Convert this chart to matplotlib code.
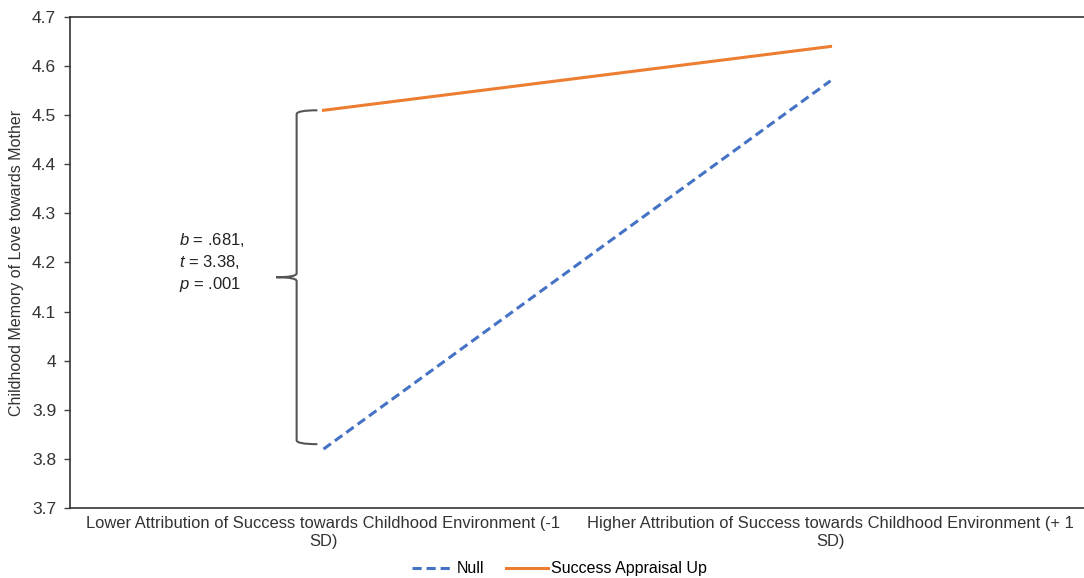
import matplotlib.pyplot as plt
from matplotlib.path import Path
from matplotlib.patches import PathPatch

plt.rcParams['font.family'] = ['Liberation Sans', 'DejaVu Sans']
plt.rcParams['mathtext.fontset'] = 'custom'
plt.rcParams['mathtext.rm'] = 'Liberation Sans'
plt.rcParams['mathtext.it'] = 'Liberation Sans:italic'

categories = ['Lower Attribution of Success towards Childhood Environment (-1\nSD)',
              'Higher Attribution of Success towards Childhood Environment (+ 1\nSD)']
null_vals = [3.82, 4.57]
success_vals = [4.51, 4.64]
yticks = [3.7, 3.8, 3.9, 4.0, 4.1, 4.2, 4.3, 4.4, 4.5, 4.6, 4.7]
ytick_labels = ['3.7', '3.8', '3.9', '4', '4.1', '4.2', '4.3', '4.4', '4.5', '4.6', '4.7']

txt = '#333333'

fig = plt.figure(figsize=(10.84, 5.78), dpi=100)
ax = fig.add_axes([70 / 1084, 70 / 578, 1 - 70 / 1084, 491 / 578])

x = [0, 1]
ax.plot(x, null_vals, color='#4472C4', lw=2.2, ls=(0, (3, 1.6)), label='Null')
ax.plot(x, success_vals, color='#ED7D31', lw=2.2, label='Success Appraisal Up')

ax.set_xlim(-0.5, 1.5)
ax.set_ylim(3.7, 4.7)
ax.set_yticks(yticks)
ax.set_yticklabels(ytick_labels, fontsize=12.5, color=txt)
ax.set_xticks(x)
ax.set_xticklabels(categories, fontsize=11.9, color=txt, linespacing=1.2)
ax.tick_params(axis='x', length=0, pad=6)
ax.tick_params(axis='y', length=4, width=1, color='#404040', pad=6)
ax.set_ylabel('Childhood Memory of Love towards Mother', fontsize=11.5, color=txt, labelpad=6)

for side in ['left', 'bottom', 'top']:
    ax.spines[side].set_color('#333333')
    ax.spines[side].set_linewidth(1.2)
ax.spines['right'].set_visible(False)

# curly brace spanning the gap between the two lines at the low end
top, bot = success_vals[0], 3.83
mid = (top + bot) / 2
xb, xe, xc = -0.053, -0.012, -0.093
r = 0.008
verts = [(xe, top), (xb, top), (xb, top - r), (xb, mid + r),
         (xb, mid), (xc, mid), (xb, mid), (xb, mid - r),
         (xb, bot + r), (xb, bot), (xe, bot)]
codes = [Path.MOVETO, Path.CURVE3, Path.CURVE3, Path.LINETO,
         Path.CURVE3, Path.CURVE3, Path.CURVE3, Path.CURVE3,
         Path.LINETO, Path.CURVE3, Path.CURVE3]
ax.add_patch(PathPatch(Path(verts, codes), fill=False, lw=1.5, edgecolor='#555555'))

ax.text(-0.285, mid + 0.03, '$b$ = .681,\n$t$ = 3.38,\n$p$ = .001', fontsize=12,
        ha='left', va='center', linespacing=1.3, color='#222222')

fig.legend(loc='lower center', bbox_to_anchor=(0.516, -0.022), ncol=2, frameon=False,
           fontsize=11.5, handlelength=2.6, columnspacing=1.4, handletextpad=0.2)

fig.savefig('out.png', dpi=100)
